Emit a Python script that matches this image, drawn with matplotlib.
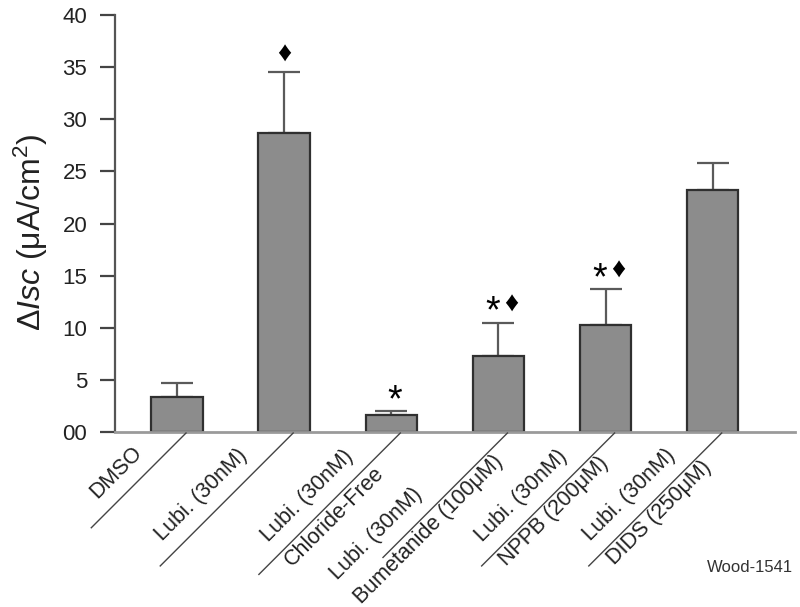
import numpy as np
import matplotlib
matplotlib.use("Agg")
import matplotlib.pyplot as plt

# ---------------- data ----------------
label_line1 = ["DMSO", "Lubi. (30nM)", "Lubi. (30nM)", "Lubi. (30nM)", "Lubi. (30nM)", "Lubi. (30nM)"]
label_line2 = ["", "", "Chloride-Free", "Bumetanide (100μM)", "NPPB (200μM)", "DIDS (250μM)"]
means = [3.4, 28.7, 1.6, 7.3, 10.3, 23.2]
sem_upper = [1.3, 5.8, 0.4, 3.2, 3.4, 2.6]
signif = ["", "♦", "*", "*♦", "*♦", ""]
ytick_values = [0, 5, 10, 15, 20, 25, 30, 35, 40]
ytick_labels = ["00", "5", "10", "15", "20", "25", "30", "35", "40"]

# ---------------- style ----------------
plt.rcParams["font.family"] = ["Liberation Sans", "DejaVu Sans"]
plt.rcParams["mathtext.fontset"] = "custom"
plt.rcParams["mathtext.rm"] = "Liberation Sans"
plt.rcParams["mathtext.it"] = "Liberation Sans:italic"

W, H = 800, 607
fig = plt.figure(figsize=(W / 100, H / 100), dpi=100)
ax = fig.add_axes([115 / W, 1 - 432 / H, (795 - 115) / W, (432 - 15) / H])

x = np.arange(len(means))
ax.bar(x, means, width=0.48, color="#8c8c8c", edgecolor="#303030", linewidth=1.6, zorder=3)
ax.errorbar(x, means, yerr=[np.zeros(len(means)), sem_upper], fmt="none",
            ecolor="#5a5a5a", elinewidth=1.6, capsize=11.5, capthick=1.6, zorder=2)

ax.set_xlim(-0.579, 5.768)
ax.set_ylim(0, 40)
ax.set_yticks(ytick_values)
ax.set_yticklabels(ytick_labels)
ax.set_xticks([])
ax.tick_params(axis="y", length=11, width=1.6, color="#444444", pad=9,
               labelsize=16, labelcolor="#222222")
for s in ["top", "right"]:
    ax.spines[s].set_visible(False)
ax.spines["left"].set_color("#555555")
ax.spines["left"].set_linewidth(1.6)
ax.spines["bottom"].set_color("#9a9a9a")
ax.spines["bottom"].set_linewidth(2.0)
ax.spines["bottom"].set_zorder(4)

# y label
fig.text(31 / W, 1 - 232 / H, "Δ$\\mathit{Isc}$ (μA/cm$^{2}$)", rotation=90,
         ha="center", va="center", fontsize=23, color="#222222")

# ---------------- diagonal category labels ----------------
fig.canvas.draw()
inv = fig.transFigure.inverted()
r2 = np.sqrt(2.0)
u = np.array([-1 / r2, -1 / r2])   # along line, down-left
p = np.array([-1 / r2, 1 / r2])    # perpendicular, up-left
line_len = [134, 188, 200, 176, 188, 188]
text_start = [109, 169, 171, 224, 171, 170]
for i in range(len(means)):
    S = ax.transData.transform((x[i], 0)) + np.array([9, -1])
    E = S + line_len[i] * u
    (fx0, fy0), (fx1, fy1) = inv.transform([S, E])
    fig.add_artist(plt.Line2D([fx0, fx1], [fy0, fy1], color="#444444", lw=1.0))
    A1 = S + text_start[i] * u + 16 * p
    A2 = S + text_start[i] * u - 18 * p
    for txt, A in ((label_line1[i], A1), (label_line2[i], A2)):
        if txt:
            fa = inv.transform(A)
            fig.text(fa[0], fa[1], txt, rotation=45, rotation_mode="anchor",
                     ha="left", va="baseline", fontsize=15.5, color="#222222")

# ---------------- significance markers ----------------
for i, m in enumerate(signif):
    top = means[i] + sem_upper[i]
    if m == "*":
        ax.annotate("*", xy=(x[i], top), xytext=(2.5, 0), textcoords="offset points",
                    ha="center", va="baseline", fontsize=27, color="black")
    elif m == "♦":
        ax.annotate("♦", xy=(x[i], top), xytext=(0, 8), textcoords="offset points",
                    ha="center", va="baseline", fontsize=20, color="black")
    elif m == "*♦":
        ax.annotate("*", xy=(x[i], top), xytext=(-4.5, 0), textcoords="offset points",
                    ha="center", va="baseline", fontsize=27, color="black")
        ax.annotate("♦", xy=(x[i], top), xytext=(9, 8), textcoords="offset points",
                    ha="center", va="baseline", fontsize=20, color="black")

fig.text(793 / W, 1 - 572 / H, "Wood-1541", ha="right", va="baseline",
         fontsize=12, color="#333333")

fig.savefig("out.png", dpi=100)
